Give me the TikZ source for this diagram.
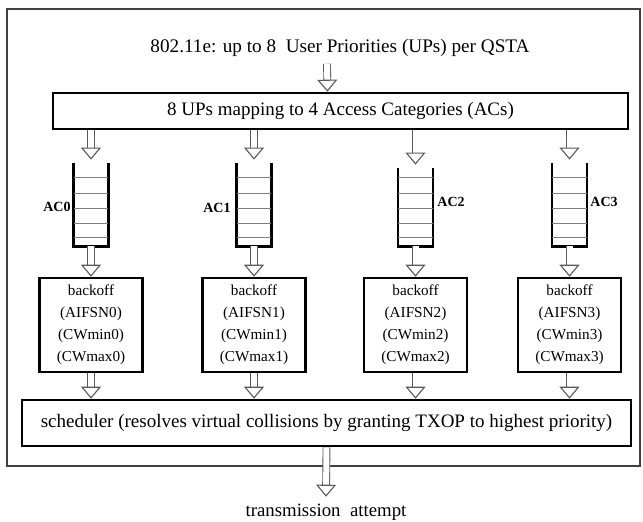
\documentclass[tikz,border=0pt]{standalone}
\usepackage{fontspec}
\setmainfont{Liberation Serif}
\usetikzlibrary{arrows.meta, positioning}

\begin{document}
\begin{tikzpicture}[x=0.5pt, y=-0.5pt,
  box/.style={draw, line width=1.3pt, inner sep=0pt, font=\fontsize{9.5}{11}\selectfont},
  hollow/.style={draw=black!65, double=white, line width=0.45pt, double distance=3pt,
    -{Triangle[open, length=6pt, width=10pt, line width=0.55pt]}},
  wall/.style={line width=1.3pt},
  rung/.style={black!50, line width=0.4pt},
  aclabel/.style={font=\fontsize{7}{8}\selectfont\bfseries, inner sep=0pt},
  bk/.style={box, minimum width=51.5pt, minimum height=47pt, align=center,
    font=\fontsize{7.6}{11}\selectfont}]
\useasboundingbox (0,0) rectangle (643,522);

% outer frame
\draw[black!75, line width=0.8pt] (7,9) rectangle (640,466);

\node (title) at (340,48) {\fontsize{9.6}{11}\selectfont 802.11e: up to 8~~User Priorities (UPs) per QSTA};
\node (map) [box, minimum width=287.5pt, minimum height=18pt] at (340.5,111) {8 UPs mapping to 4 Access Categories (ACs)};
\draw[hollow] ([xshift=-6.5pt]title.south) -- ([xshift=-6.5pt]map.north);

% queues and backoff entities
\foreach \i/\x/\y/\h in {0/91/204.5/41.5, 1/254/204.5/41.5, 2/415.5/207/39, 3/569.5/204.5/41.5} {
  \node (q\i) [minimum width=17pt, minimum height=\h pt, inner sep=0pt] at (\x,\y) {};
  \draw[wall] (q\i.north west) |- (q\i.south east) -- (q\i.north east);
  \foreach \r in {4.5, 11.5, 19, 26.5, 34.5}
    \draw[rung] ([yshift=\r pt]q\i.south west) -- ([yshift=\r pt]q\i.south east);
  \node (b\i) [bk] at (\x,325) {backoff\\(AIFSN\i)\\(CWmin\i)\\(CWmax\i)};
}
\node (l0) [aclabel, anchor=east] at (71,207) {AC0};
\node (l1) [aclabel, anchor=east] at (231,208) {AC1};
\node (l2) [aclabel, anchor=west] at (437,202) {AC2};
\node (l3) [aclabel, anchor=west] at (590,202) {AC3};

\node (sched) [box, minimum width=304.5pt, minimum height=23pt] at (326.5,423) {scheduler (resolves virtual collisions by granting TXOP to highest priority)};
\node (out) at (326,512) {\fontsize{9.4}{11}\selectfont transmission~~attempt};

\foreach \i in {0,...,3} {
  \draw[hollow] (map.south -| q\i.north) -- ([yshift=1.5pt]q\i.north);
  \draw[hollow] (q\i.south) -- (b\i.north);
  \draw[hollow] (b\i.south) -- (b\i.south |- sched.north);
}
\draw[hollow] (sched.south) -- (out.north);
\end{tikzpicture}
\end{document}
